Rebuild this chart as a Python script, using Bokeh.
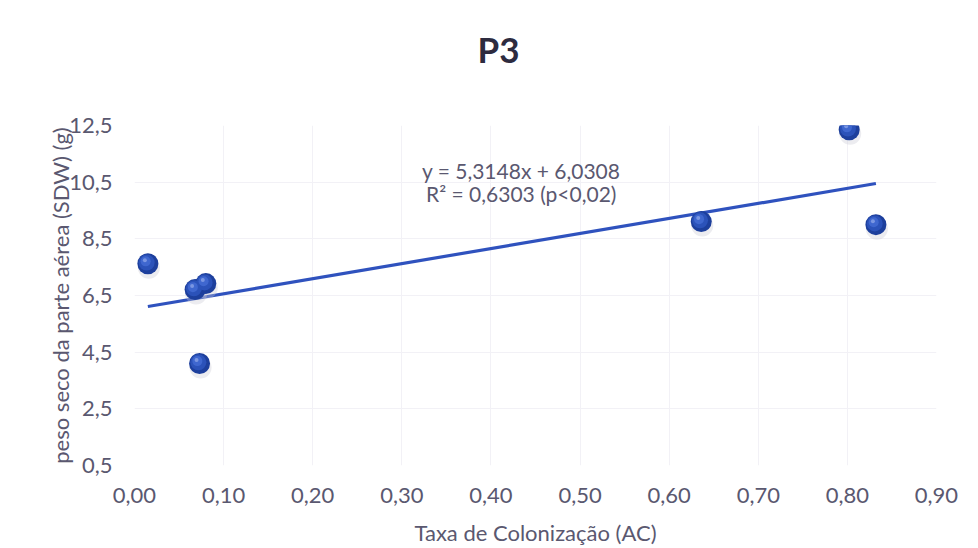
import numpy as np
from bokeh.plotting import figure
from bokeh.models import Label, FixedTicker, CustomJSTickFormatter, Range1d
from bokeh.embed import file_html
from bokeh.resources import INLINE

# ---- data ----
colonizacao = [0.015, 0.068, 0.080, 0.073, 0.636, 0.802, 0.832]
peso_seco = [7.62, 6.71, 6.92, 4.10, 9.11, 12.35, 9.00]
slope = 5.3148
intercept = 6.0308
x_ticks = [0.0, 0.1, 0.2, 0.3, 0.4, 0.5, 0.6, 0.7, 0.8, 0.9]
y_ticks = [0.5, 2.5, 4.5, 6.5, 8.5, 10.5, 12.5]
eq_text = "y = 5,3148x + 6,0308"
r2_text = "R² = 0,6303 (p<0,02)"
title_text = "P3"
x_label = "Taxa de Colonização (AC)"
y_label = "peso seco da parte aérea (SDW) (g)"

FONT = "Lato"
TXT = "#5a5870"

W, H = 978, 548
BL, BR, BT, BB = 134, 42, 125, 83
p = figure(width=W, height=H, output_backend="svg", toolbar_location=None,
           x_range=Range1d(0, 0.9), y_range=Range1d(0.5, 12.5),
           min_border_left=BL, min_border_right=BR,
           min_border_top=BT, min_border_bottom=BB)
p.outline_line_color = None
p.background_fill_color = "white"
p.border_fill_color = "white"

# a trailing empty line lifts the title higher above the plot area
p.title.text = title_text + "\n "
p.title.text_font = FONT
p.title.text_font_size = "35px"
p.title.text_font_style = "bold"
p.title.text_color = "#2d2b3f"
p.title.align = "left"
p.title.offset = 343
p.title.standoff = 28

for ax in (p.xaxis[0], p.yaxis[0]):
    ax.axis_line_color = None
    ax.major_tick_line_color = None
    ax.minor_tick_line_color = None
    ax.major_tick_out = 0
    ax.major_tick_in = 0
    ax.major_label_text_font = FONT
    ax.major_label_text_font_size = "22px"
    ax.major_label_text_color = TXT
    ax.axis_label_text_font = FONT
    ax.axis_label_text_font_size = "22px"
    ax.axis_label_text_font_style = "normal"
    ax.axis_label_text_color = TXT

p.xaxis.ticker = FixedTicker(ticks=x_ticks)
p.yaxis.ticker = FixedTicker(ticks=y_ticks)
p.xaxis.formatter = CustomJSTickFormatter(code="return tick.toFixed(2).replace('.', ',');")
p.yaxis.formatter = CustomJSTickFormatter(code="return tick.toFixed(1).replace('.', ',');")
p.xaxis.major_label_standoff = 22
p.yaxis.major_label_standoff = 22
p.xaxis.axis_label = x_label
p.yaxis.axis_label = y_label
p.xaxis.axis_label_standoff = 13
p.yaxis.axis_label_standoff = -8

p.xgrid.ticker = FixedTicker(ticks=x_ticks)
p.ygrid.ticker = FixedTicker(ticks=y_ticks)
p.xgrid.grid_line_color = "#f2f1f6"
p.ygrid.grid_line_color = "#f2f1f6"

# trend line over the data range
xs = np.array(colonizacao)
tx = np.array([xs.min(), xs.max()])
ty = slope * tx + intercept
p.line(tx, ty, line_color="#2f52be", line_width=3.2)

# sphere-like markers
fw = W - BL - BR
fh = H - BT - BB
dxp = 0.9 / fw
dyp = 12.0 / fh
xa = np.array(colonizacao)
ya = np.array(peso_seco)
p.scatter(xa + 1 * dxp, ya - 4 * dyp, size=22, fill_color="#c8c8d4", fill_alpha=0.35, line_color=None)
p.scatter(xa, ya, size=21, fill_color="#1d3f9c", line_color=None)
p.scatter(xa - 1.2 * dxp, ya + 1.2 * dyp, size=16, fill_color="#2b52b9", line_color=None)
p.scatter(xa - 2.2 * dxp, ya + 2.4 * dyp, size=10, fill_color="#3f67cf", line_color=None)
p.scatter(xa - 3 * dxp, ya + 3.5 * dyp, size=4, fill_color="#8aa3e6", fill_alpha=0.8, line_color=None)

p.add_layout(Label(x=0.434, y=10.9, text=eq_text, text_font=FONT, text_font_size="21px",
                   text_color=TXT, text_align="center", text_baseline="middle"))
p.add_layout(Label(x=0.434, y=10.09, text=r2_text, text_font=FONT, text_font_size="21px",
                   text_color=TXT, text_align="center", text_baseline="middle"))

open("out.html", "w").write(file_html(p, INLINE))
